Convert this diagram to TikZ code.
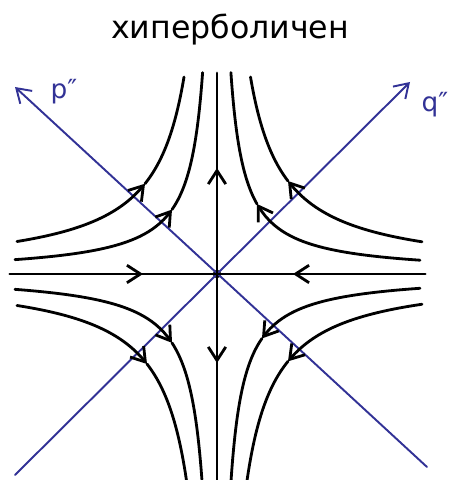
\documentclass[tikz,border=0pt]{standalone}
\usepackage{fontspec}
\setmainfont{DejaVu Sans}
\usepackage{tikz}
\usetikzlibrary{arrows.meta}
\definecolor{eigblue}{RGB}{50,50,150}
\tikzstyle{flow} = [black, line width=1.6pt, line cap=round]
\tikzstyle{eig}  = [eigblue, line width=1.1pt, line cap=round]
\tikzstyle{barb} = [-{Straight Barb[length=2.7mm, width=3.5mm]}]

\begin{document}
\begin{tikzpicture}[x=0.02cm, y=0.02cm,
      lab/.style={font=\fontsize{15}{15}\selectfont, eigblue},
    ]
    \useasboundingbox (0,0) rectangle (459,480);

    \node[font=\fontsize{18}{18}\selectfont] (title) at (230,450) {хиперболичен};

    % axes
    \coordinate (W) at (10,206);
    \coordinate (E) at (425,206);
    \coordinate (N) at (217,407);
    \coordinate (S) at (217,0);
    \coordinate (hw) at (143,206);
    \coordinate (he) at (293,206);
    \coordinate (vn) at (217,312);
    \coordinate (vs) at (217,117);
    \node[circle, fill, inner sep=0pt, minimum size=0.17cm] (O) at (217,206) {};

    % eigen directions
    \coordinate (p1) at (427,13);
    \coordinate (p2) at (15,393);
    \coordinate (q1) at (15,5);
    \coordinate (q2) at (410,398);
    \draw[eig, barb] (p1) -- (p2);
    \draw[eig, barb] (q1) -- (q2);
    \node[lab] (plab) at (64,388) {p″};
    \node[lab] (qlab) at (435,375) {q″};

    \draw[flow] (W) -- (E);
    \draw[flow] (N) -- (S);
    \draw[flow, barb] (W) -- (hw);
    \draw[flow, barb] (E) -- (he);
    \draw[flow, barb] (O) -- (vn);
    \draw[flow, barb] (O) -- (vs);

    \begin{scope}[shift={(O)}]
      % upper left
      \draw[flow, barb] plot[domain=-200:-72, samples=40] (\x, {6500/(-\x)});
      \draw[flow]       plot[domain=-72:-33,  samples=40] (\x, {6500/(-\x)});
      \draw[flow, barb] plot[domain=-202:-45, samples=40] (\x, {2900/(-\x)});
      \draw[flow]       plot[domain=-45:-14.4, samples=40] (\x, {2900/(-\x)});
      % upper right
      \draw[flow, barb] plot[domain=205:71, samples=40] (\x, {6600/\x});
      \draw[flow]       plot[domain=71:33.5, samples=40] (\x, {6600/\x});
      \draw[flow, barb] plot[domain=203:40, samples=40] (\x, {2800/\x});
      \draw[flow]       plot[domain=40:13.9, samples=40] (\x, {2800/\x});
      % lower left
      \draw[flow, barb] plot[domain=-200:-70, samples=40] (\x, {6300/\x});
      \draw[flow]       plot[domain=-70:-30.6, samples=40] (\x, {6300/\x});
      \draw[flow, barb] plot[domain=-202:-45, samples=40] (\x, {3100/\x});
      \draw[flow]       plot[domain=-45:-15.1, samples=40] (\x, {3100/\x});
      % lower right
      \draw[flow, barb] plot[domain=205:71, samples=40] (\x, {-6200/\x});
      \draw[flow]       plot[domain=71:30.1, samples=40] (\x, {-6200/\x});
      \draw[flow, barb] plot[domain=203:45, samples=40] (\x, {-2900/\x});
      \draw[flow]       plot[domain=45:14.1, samples=40] (\x, {-2900/\x});
    \end{scope}
  \end{tikzpicture}
\end{document}
